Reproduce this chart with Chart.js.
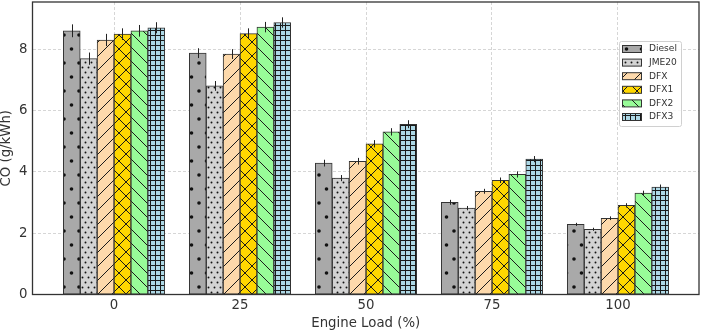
<!DOCTYPE html>
<html>
<head>
<meta charset="utf-8">
<script src="https://cdn.jsdelivr.net/npm/chart.js@4.4.1/dist/chart.umd.min.js"></script>
<style>
  html, body { margin: 0; padding: 0; background: #fff; }
  #wrap { width: 701px; height: 332px; }
</style>
</head>
<body>
<div id="wrap"><canvas id="coChart" width="701" height="332"></canvas></div>
<script>
// engine loads (%) and fuels
const loadLabels = ['0', '25', '50', '75', '100'];
const loadIndex = [0, 1, 2, 3, 4];
const fuelNames = ['Diesel', 'JME20', 'DFX', 'DFX1', 'DFX2', 'DFX3'];

// CO (g/kWh)
const diesel = [8.61, 7.88, 4.29, 3.01, 2.29];
const jme20 = [7.70, 6.81, 3.80, 2.82, 2.13];
const dfx = [8.31, 7.85, 4.35, 3.37, 2.49];
const dfx1 = [8.50, 8.52, 4.92, 3.73, 2.91];
const dfx2 = [8.61, 8.73, 5.31, 3.92, 3.31];
const dfx3 = [8.71, 8.88, 5.56, 4.42, 3.51];

// error bar half-lengths
const dieselErr = [0.21, 0.16, 0.11, 0.08, 0.05];
const jme20Err = [0.20, 0.16, 0.10, 0.07, 0.05];
const dfxErr = [0.20, 0.16, 0.11, 0.08, 0.06];
const dfx1Err = [0.19, 0.17, 0.12, 0.09, 0.07];
const dfx2Err = [0.19, 0.17, 0.12, 0.10, 0.08];
const dfx3Err = [0.18, 0.17, 0.13, 0.10, 0.08];

const yTicks = [0, 2, 4, 6, 8];

const seriesValues = [diesel, jme20, dfx, dfx1, dfx2, dfx3];
const seriesErrors = [dieselErr, jme20Err, dfxErr, dfx1Err, dfx2Err, dfx3Err];

// hatch patterns
function makePattern(bg, w, h, draw) {
  const c = document.createElement('canvas');
  c.width = w;
  c.height = h;
  const g = c.getContext('2d');
  g.fillStyle = bg;
  g.fillRect(0, 0, w, h);
  g.strokeStyle = '#1a1a1a';
  g.fillStyle = '#111';
  g.lineWidth = 1;
  draw(g, w, h);
  return g.createPattern(c, 'repeat');
}

function dot(g, x, y, r) {
  g.beginPath();
  g.arc(x, y, r, 0, Math.PI * 2);
  g.fill();
}

function slash(g, s) {
  g.beginPath();
  g.moveTo(0, s); g.lineTo(s, 0);
  g.moveTo(-2, 2); g.lineTo(2, -2);
  g.moveTo(s - 2, s + 2); g.lineTo(s + 2, s - 2);
  g.stroke();
}

function backslash(g, s) {
  g.beginPath();
  g.moveTo(0, 0); g.lineTo(s, s);
  g.moveTo(s - 2, -2); g.lineTo(s + 2, 2);
  g.moveTo(-2, s - 2); g.lineTo(2, s + 2);
  g.stroke();
}

const patterns = [
  makePattern('#a9a9a9', 15, 28, (g) => { dot(g, 4, 7, 1.8); dot(g, 11.5, 21, 1.8); }),
  makePattern('#d3d3d3', 6, 10, (g) => { dot(g, 1.5, 2.5, 0.95); dot(g, 4.5, 7.5, 0.95); }),
  makePattern('#fdd9ab', 14, 14, (g, w) => slash(g, w)),
  makePattern('#ffd700', 14, 14, (g, w) => { slash(g, w); backslash(g, w); }),
  makePattern('#98fb98', 14, 14, (g, w) => backslash(g, w)),
  makePattern('#add8e6', 5, 5, (g, w, h) => {
    g.beginPath();
    g.moveTo(0, 0.5); g.lineTo(w, 0.5);
    g.moveTo(0.5, 0); g.lineTo(0.5, h);
    g.stroke();
  }),
];

// error bars drawn from the scales
const errorBars = {
  id: 'errorBars',
  afterDatasetsDraw(chart) {
    const ctx = chart.ctx;
    const yScale = chart.scales.y;
    ctx.save();
    ctx.strokeStyle = '#222';
    ctx.lineWidth = 1;
    chart.data.datasets.forEach((ds, di) => {
      const meta = chart.getDatasetMeta(di);
      meta.data.forEach((bar, i) => {
        const v = seriesValues[di][i];
        const e = seriesErrors[di][i];
        const x = Math.round(bar.x) + 0.5;
        ctx.beginPath();
        ctx.moveTo(x, yScale.getPixelForValue(v + e));
        ctx.lineTo(x, yScale.getPixelForValue(v - e));
        ctx.stroke();
      });
    });
    ctx.restore();
  }
};

// frame round the plot + legend inside it
const frameAndLegend = {
  id: 'frameAndLegend',
  afterDraw(chart) {
    const ctx = chart.ctx;
    const a = chart.chartArea;
    ctx.save();
    ctx.strokeStyle = '#333';
    ctx.lineWidth = 1.3;
    ctx.strokeRect(a.left, a.top, a.right - a.left, a.bottom - a.top);

    // legend box
    const bx = 619, by = 41, bw = 62, bh = 85;
    ctx.fillStyle = 'rgba(255,255,255,0.85)';
    ctx.strokeStyle = '#d0d0d0';
    ctx.lineWidth = 1;
    ctx.beginPath();
    ctx.roundRect(bx + 0.5, by + 0.5, bw, bh, 2);
    ctx.fill();
    ctx.stroke();

    ctx.font = '9.1px "DejaVu Sans"';
    ctx.textBaseline = 'middle';
    ctx.textAlign = 'left';
    fuelNames.forEach((name, i) => {
      const cy = 49 + i * 13.6;
      ctx.fillStyle = patterns[i];
      ctx.fillRect(622.5, cy - 3.5, 19, 7);
      ctx.strokeStyle = '#333';
      ctx.strokeRect(622.5, cy - 3.5, 19, 7);
      ctx.fillStyle = '#333';
      ctx.fillText(name, 649, cy);
    });
    ctx.restore();
  }
};

const datasets = fuelNames.map((name, i) => ({
  label: name,
  data: loadIndex.map((x, j) => ({ x: x, y: seriesValues[i][j] })),
  backgroundColor: patterns[i],
  borderColor: '#333',
  borderWidth: 1,
  borderSkipped: false,
  barThickness: 16.9,
}));

const ctx = document.getElementById('coChart').getContext('2d');
new Chart(ctx, {
  type: 'bar',
  data: { datasets: datasets },
  options: {
    responsive: false,
    animation: false,
    layout: { padding: { top: 2, right: 2, left: 0, bottom: 0 } },
    plugins: {
      legend: { display: false },
      tooltip: { enabled: false },
    },
    scales: {
      x: {
        type: 'linear',
        offset: false,
        min: -0.647,
        max: 4.643,
        afterBuildTicks: (scale) => { scale.ticks = loadIndex.map((v) => ({ value: v })); },
        afterFit: (scale) => {
          scale.height = 37.5;
          scale.paddingLeft = 0;
          scale.paddingRight = 0;
        },
        grid: { offset: false, color: '#cccccc', lineWidth: 0.8, drawTicks: false },
        border: { display: false, dash: [3, 2] },
        ticks: {
          padding: 3,
          color: '#333',
          font: { family: 'DejaVu Sans', size: 13.3 },
          callback: (v) => loadLabels[v],
        },
        title: {
          display: true,
          text: 'Engine Load (%)',
          color: '#333',
          font: { family: 'DejaVu Sans', size: 13.3 },
          padding: { top: 0, bottom: 0.5 },
        },
      },
      y: {
        min: 0,
        max: 9.55,
        afterBuildTicks: (scale) => { scale.ticks = yTicks.map((v) => ({ value: v })); },
        afterFit: (scale) => {
          scale.width = 32.5;
          scale.paddingTop = 0;
          scale.paddingBottom = 0;
        },
        grid: { color: '#cccccc', lineWidth: 0.8, drawTicks: false },
        border: { display: false, dash: [3, 2] },
        ticks: {
          padding: 5,
          color: '#333',
          font: { family: 'DejaVu Sans', size: 13.3 },
        },
        title: {
          display: true,
          text: 'CO (g/kWh)',
          color: '#333',
          font: { family: 'DejaVu Sans', size: 13.3, lineHeight: 1 },
          padding: { top: 0, bottom: 0 },
        },
      },
    },
  },
  plugins: [errorBars, frameAndLegend],
});
</script>
</body>
</html>
